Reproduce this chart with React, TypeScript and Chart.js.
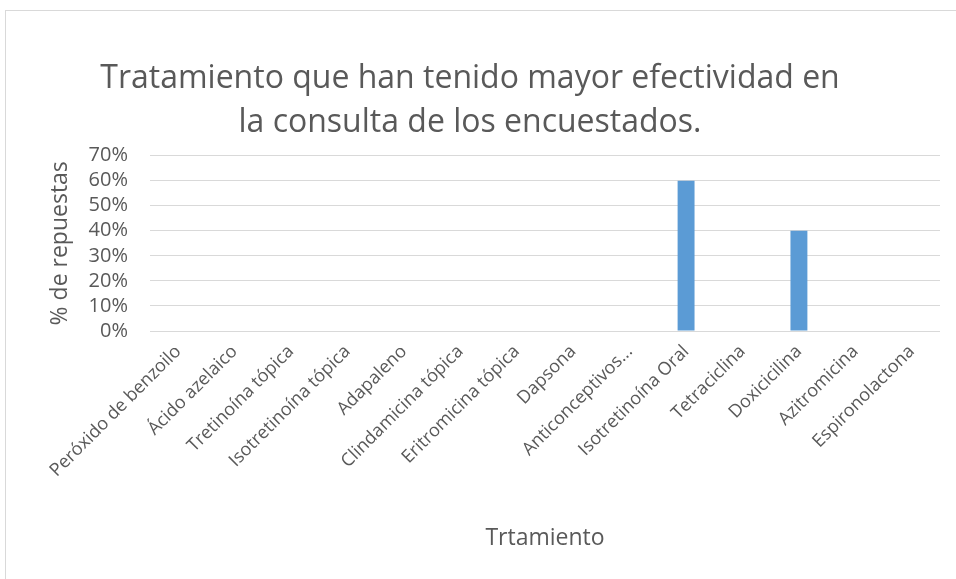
import React, { useEffect, useRef } from "react";
import { Chart, registerables } from "chart.js";

Chart.register(...registerables);

const categories = [
  "Peróxido de benzoilo",
  "Ácido azelaico",
  "Tretinoína tópica",
  "Isotretinoína tópica",
  "Adapaleno",
  "Clindamicina tópica",
  "Eritromicina tópica",
  "Dapsona",
  "Anticonceptivos...",
  "Isotretinoína Oral",
  "Tetraciclina",
  "Doxicicilina",
  "Azitromicina",
  "Espironolactona",
];

const values = [0, 0, 0, 0, 0, 0, 0, 0, 0, 0.6, 0, 0.4, 0, 0];

const titleLines = [
  "Tratamiento que han tenido mayor efectividad en",
  "la consulta de los encuestados.",
];
const yTitle = "% de repuestas";
const xTitle = "Trtamiento";

const FONT = "'Open Sans', 'Noto Sans', sans-serif";
const TEXT = "#595959";

export default function App() {
  const ref = useRef<HTMLCanvasElement | null>(null);

  useEffect(() => {
    if (!ref.current) return;
    const chart = new Chart(ref.current, {
      type: "bar",
      data: {
        labels: categories,
        datasets: [
          {
            data: values,
            backgroundColor: "#5b9bd5",
            borderWidth: 0,
            categoryPercentage: 1,
            barPercentage: 0.3,
          },
        ],
      },
      options: {
        animation: false,
        responsive: false,
        maintainAspectRatio: false,
        layout: { padding: { left: 0, right: 16, top: 0, bottom: 0 } },
        plugins: {
          legend: { display: false },
          tooltip: { enabled: false },
          title: {
            display: true,
            text: titleLines,
            color: TEXT,
            font: { family: FONT, size: 32, weight: "normal", lineHeight: 1.4 },
            padding: { top: 56, bottom: 10 },
          },
        },
        scales: {
          x: {
            grid: { display: false },
            border: { display: false },
            ticks: {
              color: TEXT,
              font: { family: FONT, size: 18 },
              maxRotation: 45,
              minRotation: 45,
              autoSkip: false,
              padding: 2,
            },
            title: {
              display: true,
              text: xTitle,
              color: TEXT,
              font: { family: FONT, size: 23 },
              padding: { top: 0, bottom: 27 },
            },
            afterFit: (s: any) => {
              s.height = 248;
            },
          },
          y: {
            min: 0,
            max: 0.7,
            ticks: {
              stepSize: 0.1,
              autoSkip: false,
              color: TEXT,
              font: { family: FONT, size: 20 },
              padding: 22,
              callback: (v: any) => Math.round(Number(v) * 100) + "%",
            },
            grid: { color: "#d9d9d9", lineWidth: 1, drawTicks: false },
            border: { display: false },
            title: {
              display: true,
              text: yTitle,
              color: TEXT,
              font: { family: FONT, size: 23 },
              padding: { top: 47, bottom: 0 },
            },
            afterFit: (s: any) => {
              s.width = 150;
            },
          },
        },
      },
    });
    return () => chart.destroy();
  }, []);

  return (
    <div
      style={{
        position: "fixed",
        left: 0,
        top: 0,
        width: 956,
        height: 579,
        overflow: "hidden",
        background: "#fff",
      }}
    >
      <div
        style={{
          position: "absolute",
          left: 5,
          top: 10,
          width: 1000,
          height: 700,
          border: "1px solid #d9d9d9",
        }}
      />
      <canvas
        ref={ref}
        width={956}
        height={579}
        style={{ position: "absolute", left: 0, top: 0, width: 956, height: 579 }}
      />
    </div>
  );
}
